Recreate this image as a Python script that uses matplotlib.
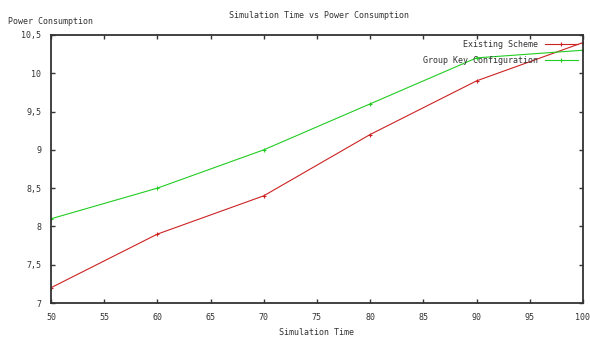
import matplotlib.pyplot as plt

# data
sim_time = [50, 60, 70, 80, 90, 100]
existing_scheme = [7.2, 7.9, 8.4, 9.2, 9.9, 10.4]
group_key_config = [8.1, 8.5, 9.0, 9.6, 10.2, 10.3]

x_ticks = [50, 55, 60, 65, 70, 75, 80, 85, 90, 95, 100]
y_ticks = [7, 7.5, 8, 8.5, 9, 9.5, 10, 10.5]

plt.rcParams['font.family'] = 'DejaVu Sans Mono'
txt_color = '#333333'

fig = plt.figure(figsize=(5.9, 3.39), dpi=100)
ax = fig.add_axes([0.0864, 0.106, 0.9016, 0.791])

ax.plot(sim_time, existing_scheme, '-', color='#cc2222', lw=0.8,
        marker='+', ms=3, mew=0.8, label='Existing Scheme')
ax.plot(sim_time, group_key_config, '-', color='#22cc22', lw=0.8,
        marker='+', ms=3, mew=0.8, label='Group Key Configuration')

ax.set_xlim(50, 100)
ax.set_ylim(7, 10.5)
ax.set_xticks(x_ticks)
ax.set_yticks(y_ticks)
ax.set_xticklabels([str(v) for v in x_ticks])
ax.set_yticklabels(['7', '7,5', '8', '8,5', '9', '9,5', '10', '10,5'])
ax.tick_params(direction='in', length=3, width=1, top=True, right=True,
               labelsize=6, colors=txt_color, pad=7)
for s in ax.spines.values():
    s.set_linewidth(1.3)
    s.set_color('#333333')

fig.text(0.54, 0.955, 'Simulation Time vs Power Consumption', ha='center',
         va='center', fontsize=6, color=txt_color)
fig.text(0.013, 0.938, 'Power Consumption', ha='left', va='center',
         fontsize=6, color=txt_color)
fig.text(0.537, 0.02, 'Simulation Time', ha='center', va='center',
         fontsize=6, color=txt_color)

leg = ax.legend(loc='upper right', frameon=False, markerfirst=False,
                fontsize=6, handlelength=4, labelspacing=0.8,
                bbox_to_anchor=(1.0, 1.0), borderaxespad=0.2)
for t in leg.get_texts():
    t.set_color(txt_color)

fig.savefig('out.png', dpi=100)
